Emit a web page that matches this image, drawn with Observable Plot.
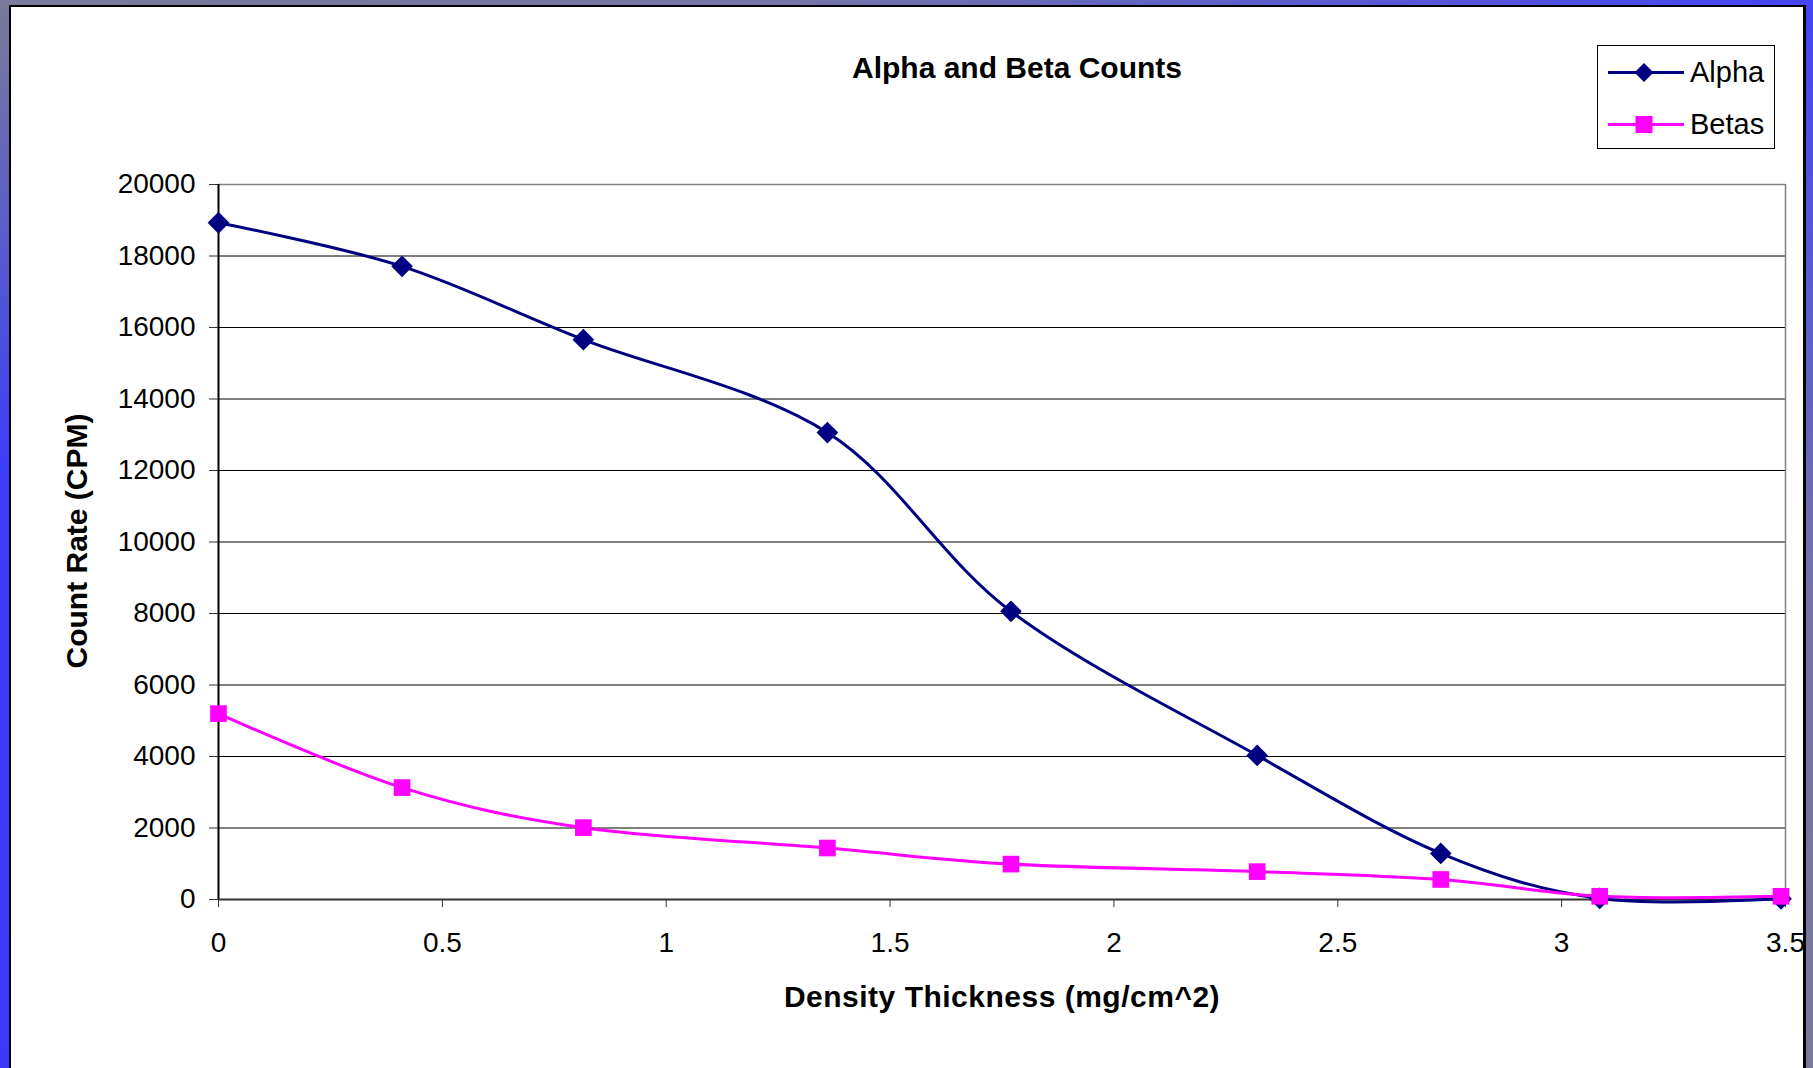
<!DOCTYPE html>
<html>
<head>
<meta charset="utf-8">
<script src="https://cdn.jsdelivr.net/npm/d3@7"></script>
<script src="https://cdn.jsdelivr.net/npm/@observablehq/plot@0.6"></script>
<style>
  html, body { margin: 0; padding: 0; }
  body {
    width: 1813px; height: 1068px; overflow: hidden; position: relative;
    background: linear-gradient(to top right, #3a3aff 0%, #3c3cfc 28%, #7a7a9a 50%, #7474a8 72%, #4444f4 100%);
    font-family: "Liberation Sans", Arial, Helvetica, sans-serif;
  }
  #panel {
    position: absolute; left: 9px; top: 5px; width: 1797px; height: 1120px;
    background: #fff; box-sizing: border-box;
    border-left: 2px solid #000; border-top: 2px solid #000; border-right: 3px solid #000;
  }
  #chart { position: absolute; left: 0; top: 0; }
  .lbl { position: absolute; line-height: 1; white-space: nowrap; color: #000; transform: translate(-50%, -50%); }
  #legend {
    position: absolute; left: 1597px; top: 45px; width: 178px; height: 104px;
    box-sizing: border-box; border: 1px solid #000; background: #fff;
  }
  #legend .item { position: absolute; left: 0; height: 40px; width: 176px; }
  #legend .item svg { position: absolute; left: 0; top: 0; }
  #legend .item span { position: absolute; left: 92px; top: 50%; transform: translateY(-50%); font-size: 29px; line-height: 1; }
</style>
</head>
<body>
<div id="panel"></div>
<div id="chart"></div>
<div class="lbl" id="title" style="left:1017px; top:68px; font-size:30px; font-weight:bold;"></div>
<div class="lbl" id="xtitle" style="left:1002px; top:997px; font-size:30px; font-weight:bold; letter-spacing:0.5px;"></div>
<div class="lbl" id="ytitle" style="left:77px; top:541px; font-size:30px; font-weight:bold; transform: translate(-50%, -50%) rotate(-90deg);"></div>
<div id="legend"></div>
<script>
// ---- data ----
const titleText = "Alpha and Beta Counts";
const xLabel = "Density Thickness (mg/cm^2)";
const yLabel = "Count Rate (CPM)";
const thickness = [0, 0.41, 0.815, 1.36, 1.77, 2.32, 2.73, 3.085, 3.49];
const alphaCounts = [18930, 17710, 15660, 13060, 8060, 4030, 1290, 30, 20];
const betaCounts = [5200, 3130, 2010, 1440, 990, 780, 560, 90, 90];
const seriesNames = ["Alpha", "Betas"];
const seriesColors = ["#000080", "#ff00ff"];
const seriesSymbols = ["diamond2", "square"];
const xTicks = [0, 0.5, 1, 1.5, 2, 2.5, 3, 3.5];
const yTicks = [0, 2000, 4000, 6000, 8000, 10000, 12000, 14000, 16000, 18000, 20000];

// ---- build ----
const series = [alphaCounts, betaCounts].map((vals, s) =>
  thickness.map((x, i) => ({x, y: vals[i], name: seriesNames[s]})));

document.getElementById("title").textContent = titleText;
document.getElementById("xtitle").textContent = xLabel;
document.getElementById("ytitle").textContent = yLabel;

const marks = [
  Plot.ruleY(yTicks.slice(1, -1), {stroke: "#000", strokeWidth: 1}),
  Plot.ruleY([yTicks[yTicks.length - 1]], {stroke: "#808080", strokeWidth: 1.5}),
  Plot.ruleX([xTicks[xTicks.length - 1]], {stroke: "#808080", strokeWidth: 1.5}),
  Plot.axisY({ticks: yTicks, tickSize: 9, tickPadding: 14, tickFormat: d3.format("d"), label: null, fontSize: 28, stroke: "#333"}),
  Plot.axisX({ticks: xTicks, tickSize: 8, tickPadding: 25, tickFormat: d => String(d), label: null, fontSize: 28, stroke: "#333"}),
  Plot.ruleX([0], {stroke: "#000", strokeWidth: 2}),
  Plot.ruleY([0], {stroke: "#333", strokeWidth: 2})
];
const markerR = [9.8, 9.4];
series.forEach((data, s) => {
  marks.push(Plot.line(data, {x: "x", y: "y", stroke: seriesColors[s], strokeWidth: 3, curve: "cardinal", tension: 0}));
  marks.push(Plot.dot(data, {x: "x", y: "y", symbol: seriesSymbols[s], r: markerR[s], fill: seriesColors[s], stroke: "none"}));
});

const chart = Plot.plot({
  width: 1813,
  height: 1068,
  marginLeft: 218,
  marginRight: 28,
  marginTop: 184,
  marginBottom: 169,
  x: {domain: [0, 3.5]},
  y: {domain: [0, 20000]},
  style: {background: "transparent", fontFamily: "'Liberation Sans', Arial, sans-serif", fontSize: "28px", color: "#000", overflow: "visible"},
  marks
});
document.getElementById("chart").appendChild(chart);

// ---- legend ----
const legend = document.getElementById("legend");
const itemTops = [6, 58];
seriesNames.forEach((name, s) => {
  const item = document.createElement("div");
  item.className = "item";
  item.style.top = itemTops[s] + "px";
  const c = seriesColors[s];
  const marker = seriesSymbols[s] === "square"
    ? `<rect x="37.5" y="12" width="17" height="17" fill="${c}"/>`
    : `<path d="M46 11 L55.5 20.5 L46 30 L36.5 20.5 Z" fill="${c}"/>`;
  item.innerHTML = `<svg width="90" height="40"><line x1="10" x2="86" y1="20.5" y2="20.5" stroke="${c}" stroke-width="3"/>${marker}</svg><span>${name}</span>`;
  legend.appendChild(item);
});
</script>
</body>
</html>
